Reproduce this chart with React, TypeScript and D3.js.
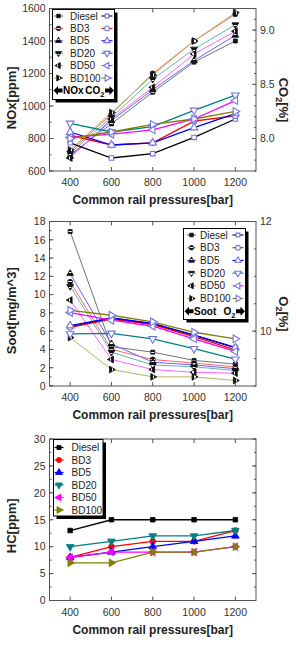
import React from 'react';
import * as d3 from 'd3';

// rail pressure sweep and the six fuel blends
const pressures = [400, 600, 800, 1000, 1200];
const fuels = ['Diesel', 'BD3', 'BD5', 'BD20', 'BD50', 'BD100'];
const fuelColors = ['#000000', '#ff0000', '#0000ff', '#008080', '#ff00ff', '#808000'];
const fuelShapes = ['square', 'circle', 'up', 'down', 'left', 'right'];

// NOx [ppm] (left axis, top chart)
const noxPpm = [
  [700, 890, 1085, 1270, 1400],
  [720, 950, 1200, 1400, 1565],
  [690, 910, 1100, 1280, 1435],
  [710, 930, 1165, 1350, 1500],
  [680, 920, 1115, 1320, 1460],
  [730, 960, 1190, 1400, 1575],
];
// CO2 [%] (right axis, top chart)
const co2Pct = [
  [7.96, 7.82, 7.86, 8.01, 8.18],
  [8.03, 7.94, 7.96, 8.16, 8.21],
  [8.06, 7.94, 7.96, 8.1, 8.23],
  [8.14, 8.06, 8.11, 8.26, 8.4],
  [8.01, 8.04, 8.08, 8.18, 8.35],
  [8.0, 8.06, 8.13, 8.18, 8.25],
];
// soot [mg/m^3] (left axis, middle chart)
const sootMg = [
  [16.9, 4.3, 3.7, 2.8, 2.4],
  [11.4, 4.0, 2.9, 2.5, 2.1],
  [12.3, 4.6, 2.6, 2.3, 1.9],
  [10.9, 3.7, 2.3, 2.1, 1.7],
  [9.4, 2.9, 1.8, 1.5, 1.4],
  [5.3, 1.8, 1.0, 1.0, 0.6],
];
// O2 [%] (right axis, middle chart)
const o2Pct = [
  [10.08, 10.24, 10.13, 9.93, 9.7],
  [10.07, 10.22, 10.12, 9.9, 9.66],
  [10.1, 10.24, 10.14, 9.93, 9.7],
  [9.95, 9.96, 9.86, 9.68, 9.49],
  [10.34, 10.2, 10.09, 9.86, 9.63],
  [10.38, 10.29, 10.17, 9.98, 9.86],
];
// HC [ppm] (bottom chart)
const hcPpm = [
  [13, 15, 15, 15, 15],
  [8, 10, 11, 11, 13],
  [8, 9, 10, 11, 12],
  [10, 11, 12, 12, 13],
  [8, 9, 9, 9, 10],
  [7, 7, 9, 9, 10],
];

const xTicks = [400, 600, 800, 1000, 1200];
const noxTicks = [600, 800, 1000, 1200, 1400, 1600];
const co2Ticks = [8.0, 8.5, 9.0];
const sootTicks = [0, 2, 4, 6, 8, 10, 12, 14, 16, 18];
const o2Ticks = [10, 12];
const hcTicks = [0, 5, 10, 15, 20, 25, 30];

const W = 296;
const H = 649;
const FONT = "'Liberation Sans', Arial, Helvetica, sans-serif";
const AXIS = '#555';
const OPEN_MARK = '#7474e4';

const x = d3.scaleLinear().domain([300, 1300]).range([49.5, 256]);

const symbolFor: Record<string, [d3.SymbolType, number]> = {
  square: [d3.symbolSquare, 0],
  circle: [d3.symbolCircle, 0],
  up: [d3.symbolTriangle, 0],
  down: [d3.symbolTriangle, 180],
  left: [d3.symbolTriangle, -90],
  right: [d3.symbolTriangle, 90],
};

type Kind = 'half' | 'open' | 'solid';

function Marker({ shape, cx, cy, kind, color, scale = 1 }: { shape: string; cx: number; cy: number; kind: Kind; color: string; scale?: number }) {
  const [type, rot] = symbolFor[shape];
  const size = (kind === 'half' ? 20 : kind === 'open' ? 25 : 26) * scale;
  const d = d3.symbol(type, shape === 'square' ? size * 0.8 : size)() as string;
  let fill = color;
  let stroke = color;
  if (kind === 'half') {
    fill = 'url(#halfFill)';
    stroke = '#111';
  } else if (kind === 'open') {
    fill = '#fff';
    stroke = OPEN_MARK;
  }
  return (
    <path
      d={d}
      transform={`translate(${cx},${cy}) rotate(${rot})`}
      fill={fill}
      stroke={stroke}
      strokeWidth={kind === 'open' ? 1.1 : 0.8}
    />
  );
}

function lineColor(i: number, kind: Kind) {
  if (kind === 'half') return d3.interpolateRgb(fuelColors[i], '#ffffff')(i === 0 ? 0.45 : 0.4);
  return fuelColors[i];
}

function SeriesGroup({ data, y, kind }: { data: number[][]; y: d3.ScaleLinear<number, number>; kind: Kind }) {
  const line = d3
    .line<number>()
    .x((_, j) => x(pressures[j]))
    .y((v) => y(v));
  return (
    <g>
      {data.map((vals, i) => (
        <path key={'l' + i} d={line(vals) as string} fill="none" stroke={lineColor(i, kind)} strokeWidth={kind === 'half' ? 1 : 1.3} />
      ))}
      {data.map((vals, i) =>
        vals.map((v, j) => (
          <Marker key={'m' + i + '-' + j} shape={fuelShapes[i]} cx={x(pressures[j])} cy={y(v)} kind={kind} color={fuelColors[i]} />
        ))
      )}
    </g>
  );
}

function minorRange(domain: number[], step: number) {
  const out: number[] = [];
  const n = Math.round((domain[1] - domain[0]) / step);
  for (let k = 0; k <= n; k++) out.push(+(domain[0] + k * step).toFixed(4));
  return out;
}

interface PanelProps {
  top: number;
  bottom: number;
  leftDomain: number[];
  leftTicks: number[];
  leftMinor: number;
  leftFormat: (v: number) => string;
  leftTitle: React.ReactNode;
  leftSeries: number[][];
  leftKind: Kind;
  rightDomain?: number[];
  rightTicks?: number[];
  rightMinor?: number;
  rightFormat?: (v: number) => string;
  rightTitle?: React.ReactNode;
  rightSeries?: number[][];
  titleShift: number;
  rightTitleY?: number;
  children?: React.ReactNode;
}

function Panel(p: PanelProps) {
  const [x0, x1] = x.range();
  const yL = d3.scaleLinear().domain(p.leftDomain).range([p.bottom, p.top]);
  const yR = p.rightDomain ? d3.scaleLinear().domain(p.rightDomain).range([p.bottom, p.top]) : yL;
  const rTicks = p.rightTicks ?? p.leftTicks;
  const rMinor = p.rightMinor ?? p.leftMinor;
  const rDomain = p.rightDomain ?? p.leftDomain;
  const midY = (p.top + p.bottom) / 2;

  return (
    <g>
      {p.leftSeries && <SeriesGroup data={p.leftSeries} y={yL} kind={p.leftKind} />}
      {p.rightSeries && <SeriesGroup data={p.rightSeries} y={yR} kind="open" />}

      <rect x={x0} y={p.top} width={x1 - x0} height={p.bottom - p.top} fill="none" stroke={AXIS} strokeWidth={1} />

      {/* x ticks, pointing inward on bottom and top */}
      {xTicks.map((t) => (
        <g key={'x' + t}>
          <line x1={x(t)} x2={x(t)} y1={p.bottom} y2={p.bottom - 4} stroke={AXIS} />
          <line x1={x(t)} x2={x(t)} y1={p.top} y2={p.top + 4} stroke={AXIS} />
          <text x={x(t)} y={p.bottom + 15} textAnchor="middle" fontSize={10.5} fill="#333">
            {t}
          </text>
        </g>
      ))}
      <text x={(x0 + x1) / 2} y={p.bottom + 33} textAnchor="middle" fontSize={12} fontWeight="bold" fill="#222">
        Common rail pressures[bar]
      </text>

      {/* left axis */}
      {minorRange(p.leftDomain, p.leftMinor).map((t) => (
        <line key={'lm' + t} x1={x0} x2={x0 + 2} y1={yL(t)} y2={yL(t)} stroke={AXIS} />
      ))}
      {p.leftTicks.map((t) => (
        <g key={'l' + t}>
          <line x1={x0} x2={x0 + 4} y1={yL(t)} y2={yL(t)} stroke={AXIS} />
          <text x={x0 - 4} y={yL(t) + 3.8} textAnchor="end" fontSize={10.5} fill="#333">
            {p.leftFormat(t)}
          </text>
        </g>
      ))}
      <text
        transform={`translate(16,${midY + p.titleShift}) rotate(-90)`}
        textAnchor="middle"
        fontSize={13}
        fontWeight="bold"
        fill="#222"
      >
        {p.leftTitle}
      </text>

      {/* right axis */}
      {minorRange(rDomain, rMinor).map((t) => (
        <line key={'rm' + t} x1={x1} x2={x1 - 2} y1={yR(t)} y2={yR(t)} stroke={AXIS} />
      ))}
      {rTicks.map((t) => (
        <g key={'r' + t}>
          <line x1={x1} x2={x1 - 4} y1={yR(t)} y2={yR(t)} stroke={AXIS} />
          {p.rightFormat && (
            <text x={x1 + 4} y={yR(t) + 3.8} textAnchor="start" fontSize={10.5} fill="#333">
              {p.rightFormat(t)}
            </text>
          )}
        </g>
      ))}
      {p.rightTitle && (
        <text
          transform={`translate(279,${p.rightTitleY ?? midY}) rotate(90)`}
          textAnchor="middle"
          fontSize={13}
          fontWeight="bold"
          fill="#222"
        >
          {p.rightTitle}
        </text>
      )}

      {p.children}
    </g>
  );
}

function Arrow({ x0, cy, dir }: { x0: number; cy: number; dir: 1 | -1 }) {
  // block arrow 9px long; dir -1 points left, 1 points right
  const tip = dir === -1 ? x0 : x0 + 9;
  const back = dir === -1 ? x0 + 9 : x0;
  const neck = x0 + 4.5;
  const d = `M${tip},${cy}L${neck},${cy - 4.5}L${neck},${cy - 2}L${back},${cy - 2}L${back},${cy + 2}L${neck},${cy + 2}L${neck},${cy + 4.5}Z`;
  return <path d={d} fill="#000" />;
}

interface LegendProps {
  bx: number;
  by: number;
  bw: number;
  bh: number;
  row0: number;
  step: number;
  markX: number;
  textX: number;
  leftKind: Kind;
  openCol?: boolean;
  caption?: [string, string];
}

function Legend(l: LegendProps) {
  return (
    <g>
      <rect x={l.bx + 3} y={l.by + 3} width={l.bw} height={l.bh} fill="#000" />
      <rect x={l.bx} y={l.by} width={l.bw} height={l.bh} fill="#fff" stroke="#000" strokeWidth={1} />
      {fuels.map((f, i) => {
        const cy = l.row0 + i * l.step;
        const mx = l.bx + l.markX;
        const ox = l.bx + l.bw - 7.5;
        return (
          <g key={f}>
            <line x1={mx - 4.5} x2={mx + 4.5} y1={cy} y2={cy} stroke={lineColor(i, l.leftKind)} strokeWidth={1.2} />
            <Marker shape={fuelShapes[i]} cx={mx} cy={cy} kind={l.leftKind} color={fuelColors[i]} scale={0.8} />
            <text x={l.bx + l.textX} y={cy + 3.6} fontSize={10} fill="#222">
              {f}
            </text>
            {l.openCol && (
              <g>
                <line x1={ox - 5.5} x2={ox + 5.5} y1={cy} y2={cy} stroke={fuelColors[i]} strokeWidth={1.1} />
                <Marker shape={fuelShapes[i]} cx={ox} cy={cy} kind="open" color={fuelColors[i]} scale={0.7} />
              </g>
            )}
          </g>
        );
      })}
      {l.caption && (
        <g>
          <Arrow x0={l.bx + 1} cy={l.row0 + 6 * l.step} dir={-1} />
          <text x={l.bx + 10.5} y={l.row0 + 6 * l.step + 3.6} fontSize={10} fontWeight="bold" fill="#000">
            {l.caption[0]}
          </text>
          <text x={l.bx + l.bw - 10} y={l.row0 + 6 * l.step + 3.6} textAnchor="end" fontSize={10} fontWeight="bold" fill="#000">
            {l.caption[1]}
            <tspan fontSize={7.5} dy={3}>
              2
            </tspan>
          </text>
          <Arrow x0={l.bx + l.bw - 9.5} cy={l.row0 + 6 * l.step} dir={1} />
        </g>
      )}
    </g>
  );
}

const int = d3.format('d');
const one = d3.format('.1f');

export default function App() {
  return (
    <svg
      width={W}
      height={H}
      viewBox={`0 0 ${W} ${H}`}
      style={{ position: 'absolute', left: 0, top: 0, background: '#fff' }}
      fontFamily={FONT}
    >
      <defs>
        <linearGradient id="halfFill" x1="0" y1="0" x2="0" y2="1">
          <stop offset="0" stopColor="#111" />
          <stop offset="0.4" stopColor="#111" />
          <stop offset="0.4" stopColor="#fff" />
          <stop offset="0.6" stopColor="#fff" />
          <stop offset="0.6" stopColor="#111" />
          <stop offset="1" stopColor="#111" />
        </linearGradient>
      </defs>
      <rect width={W} height={H} fill="#fff" />

      <Panel
        top={8.5}
        bottom={171}
        leftDomain={[600, 1600]}
        leftTicks={noxTicks}
        leftMinor={100}
        leftFormat={int}
        leftTitle="NOx[ppm]"
        leftSeries={noxPpm}
        leftKind="half"
        rightDomain={[7.7, 9.2]}
        rightTicks={co2Ticks}
        rightMinor={0.1}
        rightFormat={one}
        rightTitle={
          <>
            CO<tspan fontSize={9} dy={3}>2</tspan>
            <tspan dy={-3}>[%]</tspan>
          </>
        }
        rightSeries={co2Pct}
        titleShift={8}
        rightTitleY={100}
      >
        <Legend bx={52.5} by={9.5} bw={62} bh={90} row0={16} step={12.4} markX={6} textX={17.5} leftKind="half" openCol caption={['NOx', 'CO']} />
      </Panel>

      <Panel
        top={221.5}
        bottom={386}
        leftDomain={[0, 18]}
        leftTicks={sootTicks}
        leftMinor={1}
        leftFormat={int}
        leftTitle="Soot[mg/m^3]"
        leftSeries={sootMg}
        leftKind="half"
        rightDomain={[9, 12]}
        rightTicks={o2Ticks}
        rightMinor={0.5}
        rightFormat={int}
        rightTitle={
          <>
            O<tspan fontSize={9} dy={3}>2</tspan>
            <tspan dy={-3}>[%]</tspan>
          </>
        }
        rightSeries={o2Pct}
        titleShift={7}
        rightTitleY={314}
      >
        <Legend bx={183.5} by={228.5} bw={62} bh={91} row0={235} step={12.7} markX={8} textX={16.5} leftKind="half" openCol caption={['Soot', 'O']} />
      </Panel>

      <Panel
        top={439}
        bottom={600.5}
        leftDomain={[0, 30]}
        leftTicks={hcTicks}
        leftMinor={2.5}
        leftFormat={int}
        leftTitle="HC[ppm]"
        leftSeries={hcPpm}
        leftKind="solid"
        titleShift={6}
      >
        <Legend bx={53.5} by={439.5} bw={49.5} bh={76.5} row0={447.5} step={12.5} markX={5.5} textX={18} leftKind="solid" />
      </Panel>
    </svg>
  );
}
